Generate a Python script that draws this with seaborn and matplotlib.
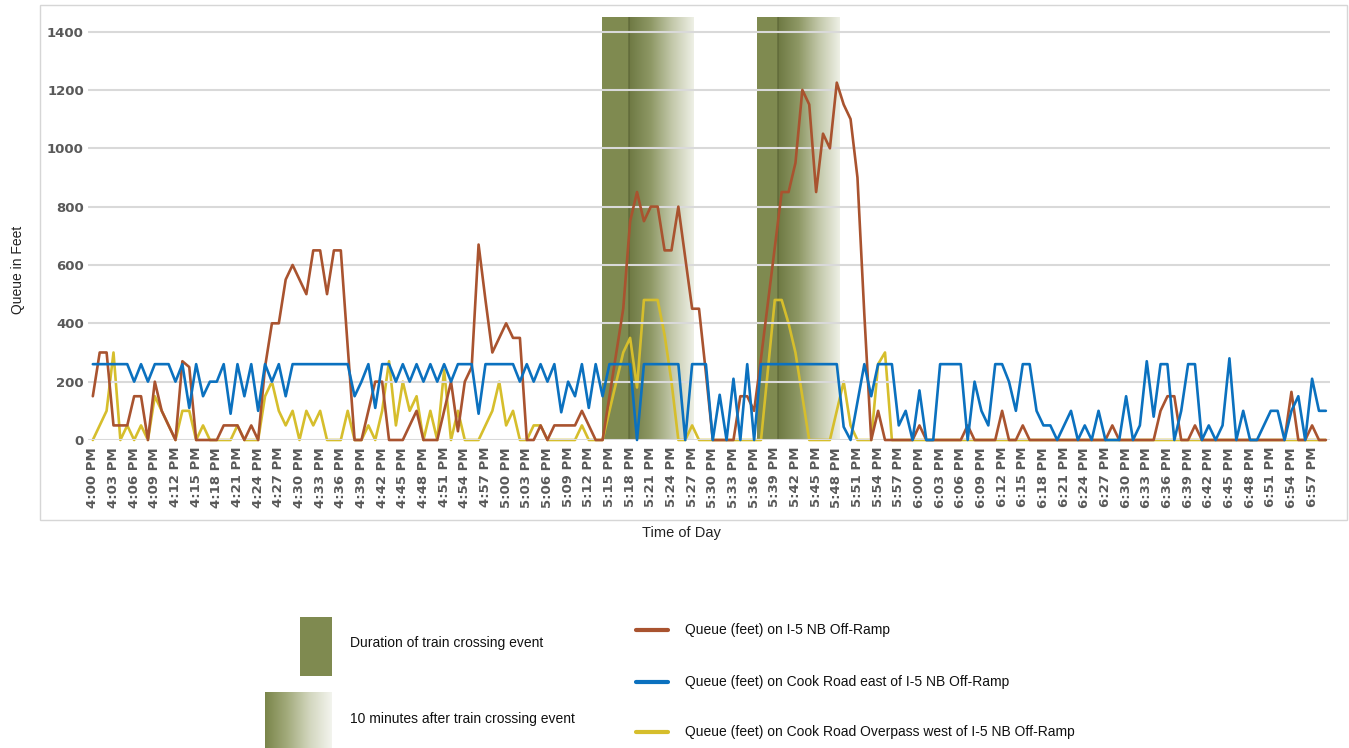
import numpy as np
import pandas as pd
import seaborn as sns
import matplotlib.pyplot as plt
from matplotlib.colors import LinearSegmentedColormap
from matplotlib.patches import Rectangle
from matplotlib.lines import Line2D

# one sample per minute, 4:00 PM .. 6:59 PM
minutes = list(range(180))
tick_minutes = list(range(0, 180, 3))
tick_labels = ["%d:%02d PM" % (4 + m // 60, m % 60) for m in tick_minutes]

# Queue (feet) on I-5 NB Off-Ramp
ramp_queue = [
    150, 300, 300, 50, 50, 50, 150, 150, 0, 200,
    100, 50, 0, 270, 250, 0, 0, 0, 0, 50,
    50, 50, 0, 50, 0, 250, 400, 400, 550, 600,
    550, 500, 650, 650, 500, 650, 650, 320, 0, 0,
    100, 200, 200, 0, 0, 0, 50, 100, 0, 0,
    0, 100, 200, 30, 200, 250, 670, 480, 300, 350,
    400, 350, 350, 0, 0, 50, 0, 50, 50, 50,
    50, 100, 50, 0, 0, 150, 300, 450, 750, 850,
    750, 800, 800, 650, 650, 800, 625, 450, 450, 230,
    0, 0, 0, 0, 150, 150, 100, 280, 470, 660,
    850, 850, 950, 1200, 1150, 850, 1050, 1000, 1225, 1150,
    1100, 900, 430, 0, 100, 0, 0, 0, 0, 0,
    50, 0, 0, 0, 0, 0, 0, 50, 0, 0,
    0, 0, 100, 0, 0, 50, 0, 0, 0, 0,
    0, 0, 0, 0, 0, 0, 0, 0, 50, 0,
    0, 0, 0, 0, 0, 100, 150, 150, 0, 0,
    50, 0, 0, 0, 0, 0, 0, 0, 0, 0,
    0, 0, 0, 0, 165, 0, 0, 50, 0, 0,
]

# Queue (feet) on Cook Road east of I-5 NB Off-Ramp
east_queue = [
    260, 260, 260, 260, 260, 260, 200, 260, 200, 260,
    260, 260, 200, 260, 110, 260, 150, 200, 200, 260,
    90, 260, 150, 260, 100, 260, 200, 260, 150, 260,
    260, 260, 260, 260, 260, 260, 260, 260, 150, 200,
    260, 110, 260, 260, 200, 260, 200, 260, 200, 260,
    200, 260, 200, 260, 260, 260, 90, 260, 260, 260,
    260, 260, 200, 260, 200, 260, 200, 260, 95, 200,
    150, 260, 110, 260, 150, 260, 260, 260, 260, 0,
    260, 260, 260, 260, 260, 260, 0, 260, 260, 260,
    0, 155, 0, 210, 0, 260, 0, 260, 260, 260,
    260, 260, 260, 260, 260, 260, 260, 260, 260, 45,
    0, 130, 260, 150, 260, 260, 260, 50, 100, 0,
    170, 0, 0, 260, 260, 260, 260, 0, 200, 100,
    50, 260, 260, 200, 100, 260, 260, 100, 50, 50,
    0, 50, 100, 0, 50, 0, 100, 0, 0, 0,
    150, 0, 50, 270, 80, 260, 260, 0, 100, 260,
    260, 0, 50, 0, 50, 280, 0, 100, 0, 0,
    50, 100, 100, 0, 100, 150, 0, 210, 100, 100,
]

# Queue (feet) on Cook Road Overpass west of I-5 NB Off-Ramp
west_queue = [
    0, 50, 100, 300, 0, 50, 0, 50, 0, 150,
    100, 50, 0, 100, 100, 0, 50, 0, 0, 0,
    0, 50, 0, 0, 0, 150, 200, 100, 50, 100,
    0, 100, 50, 100, 0, 0, 0, 100, 0, 0,
    50, 0, 100, 270, 50, 200, 100, 150, 0, 100,
    0, 240, 0, 100, 0, 0, 0, 50, 100, 200,
    50, 100, 0, 0, 50, 50, 0, 0, 0, 0,
    0, 50, 0, 0, 0, 100, 200, 300, 350, 180,
    480, 480, 480, 360, 200, 0, 0, 50, 0, 0,
    0, 0, 0, 0, 0, 0, 0, 0, 240, 480,
    480, 400, 300, 150, 0, 0, 0, 0, 100, 200,
    50, 0, 0, 0, 260, 300, 0, 0, 0, 0,
    0, 0, 0, 0, 0, 0, 0, 0, 0, 0,
    0, 0, 0, 0, 0, 0, 0, 0, 0, 0,
    0, 0, 0, 0, 0, 0, 0, 0, 0, 0,
    0, 0, 0, 0, 0, 0, 0, 0, 0, 0,
    0, 0, 0, 0, 0, 0, 0, 0, 0, 0,
    0, 0, 0, 0, 0, 0, 0, 0, 0, 0,
]

# train crossing events (minutes after 4:00 PM)
train_start = [73.9, 96.4]
train_end = [77.9, 99.4]
after_end = [87.2, 108.4]

series_names = ["Queue (feet) on I-5 NB Off-Ramp",
                "Queue (feet) on Cook Road east of I-5 NB Off-Ramp",
                "Queue (feet) on Cook Road Overpass west of I-5 NB Off-Ramp"]
series_colors = ["#A9532F", "#0B71BF", "#D6BE2C"]

OLIVE = "#7F8A50"
grad_cmap = LinearSegmentedColormap.from_list("fade", ["#6E7943", "#8E9865", "#C3C8AA", "#EEF0E6"])

sns.set_style("white")
plt.rcParams['font.family'] = ['Liberation Sans', 'DejaVu Sans']

W, H = 1349, 748
fig = plt.figure(figsize=(W / 100, H / 100), dpi=100)
ax = fig.add_axes([88 / W, 1 - 440 / H, (1330 - 88) / W, (440 - 17) / H])

grad = np.linspace(0, 1, 256).reshape(1, -1)
for s, e, a in zip(train_start, train_end, after_end):
    ax.axvspan(s, e, color=OLIVE, lw=0, zorder=0.2)
    ax.imshow(grad, cmap=grad_cmap, extent=(e, a, 0, 1450), aspect='auto', zorder=0.2)
    ax.axvline(e, color="#5E6838", lw=1.2, alpha=0.8, zorder=0.3)

df = pd.DataFrame({
    "minute": minutes * 3,
    "queue": ramp_queue + east_queue + west_queue,
    "series": [series_names[0]] * 180 + [series_names[1]] * 180 + [series_names[2]] * 180,
})
for name, color, z in zip(series_names, series_colors, [3, 4, 2]):
    sub = df[df["series"] == name]
    sns.lineplot(data=sub, x="minute", y="queue", color=color, lw=1.9, ax=ax,
                 zorder=z, clip_on=False, legend=False)

ax.set_xlim(-0.7, 179.6)
ax.set_ylim(0, 1450)
ax.set_yticks(range(0, 1401, 200))
ax.set_xticks(tick_minutes)
ax.set_xticklabels(tick_labels, rotation=90, fontweight='bold', color='#595959',
                   fontsize=9.5, family='DejaVu Sans')
for lab in ax.get_yticklabels():
    lab.set_fontweight('bold')
    lab.set_color('#595959')
    lab.set_fontsize(9.5)
    lab.set_family('DejaVu Sans')
ax.tick_params(length=0, pad=5)
ax.tick_params(axis='y', pad=3)
ax.grid(axis='y', color='#D9D9D9', lw=1.5, zorder=0.5)
ax.grid(axis='x', visible=False)
ax.set_axisbelow(False)
for sp in ax.spines.values():
    sp.set_visible(False)
ax.set_xlabel("")
ax.set_ylabel("")

fig.text(18 / W, 1 - 270 / H, "Queue in Feet", rotation=90, ha='center', va='center',
         fontsize=10, color='#222222')
fig.text(681 / W, 1 - 533 / H, "Time of Day", ha='center', va='center',
         fontsize=10.5, color='#222222')

# frame around chart area
fig.patches.append(Rectangle((40 / W, 1 - 520 / H), (1347 - 40) / W, (520 - 5) / H,
                             transform=fig.transFigure, fill=False, ec='#D6D6D6', lw=1))

# custom legend
fig.patches.append(Rectangle((300 / W, 1 - 676 / H), 32 / W, 59 / H,
                             transform=fig.transFigure, fc=OLIVE, ec='none'))
lax = fig.add_axes([265 / W, 0, 67 / W, 56 / H])
lax.imshow(grad, cmap=LinearSegmentedColormap.from_list("leg", ["#7A854A", "#A3AB7C", "#D2D6BE", "#F3F4EE"]),
           aspect='auto')
lax.axis('off')
fig.text(350 / W, 1 - 643 / H, "Duration of train crossing event", va='center', fontsize=10, color='#111111')
fig.text(350 / W, 1 - 719 / H, "10 minutes after train crossing event", va='center', fontsize=10, color='#111111')

for name, color, yy in zip(series_names, series_colors, [630, 682, 732]):
    fig.lines.append(Line2D([636 / W, 668 / W], [1 - yy / H, 1 - yy / H], transform=fig.transFigure,
                            color=color, lw=3))
    fig.text(685 / W, 1 - yy / H, name, va='center', fontsize=10, color='#111111')

fig.savefig("out.png", dpi=100)
